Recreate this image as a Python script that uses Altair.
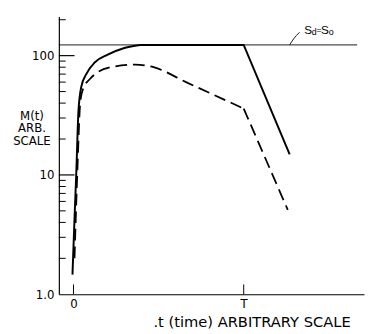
import altair as alt
import pandas as pd

# Solid curve: M(t) for the case S_d = S_o (arbitrary units, T = 10)
solid_rise_t = [-0.06, 0.06, 0.17, 0.29, 0.46, 0.75, 1.26, 2.01, 2.99, 3.91]
solid_rise_m = [1.46, 4.3, 11, 34, 55, 70, 88, 102, 116, 123]
solid_tail_t = [3.91, 10.0, 12.7]
solid_tail_m = [123, 123, 14.9]

# Dashed curve
dash_rise_t = [0.06, 0.23, 0.40, 0.57, 0.98, 1.44, 2.18, 3.62, 4.71, 6.61, 10.0]
dash_rise_m = [2.0, 11, 41, 53, 64, 73, 80, 84, 80, 60, 36]
dash_tail_t = [10.0, 12.59]
dash_tail_m = [36, 5.1]

# Saturation level line S_d = S_o
sat_t = [-0.86, 16.67]
sat_m = [123, 123]

# Leader line to the label
lead_t = [12.70, 12.93, 13.28]
lead_m = [123, 138, 157]

# Label pieces
lab_text = ["S", "d", "=", "S", "o"]
lab_t = [13.79, 14.14, 14.43, 14.77, 15.14]
lab_m = [165, 159, 165, 165, 159]
lab_size = [12, 9, 9, 12, 9]

# Y axis ticks
minor_ticks = [2, 3, 4, 5, 6, 7, 8, 9, 20, 30, 40, 50, 60, 70, 80, 90, 200]
major_ticks = [10, 100]
x_ticks = [0, 10]

XDOM = [-0.86, 17.07]
YDOM = [1, 213]
W, H = 312, 284
FONT = "DejaVu Sans"
LFONT = "Liberation Sans"

xs = alt.Scale(domain=XDOM, nice=False, zero=False)
ys = alt.Scale(type="log", domain=YDOM, nice=False)

def df(t, m):
    return pd.DataFrame({"t": t, "m": m})

base_axes = alt.Chart(df(solid_rise_t, solid_rise_m)).mark_line(
    color="black", strokeWidth=2, interpolate="monotone").encode(
    x=alt.X("t:Q", scale=xs,
            axis=alt.Axis(values=x_ticks,
                          labelExpr="datum.value == 0 ? '0' : 'T'",
                          ticks=False, labelPadding=5, labelFontSize=12, labelFont=FONT,
                          labelColor="black",
                          domainColor="black", domainWidth=1.2, grid=False,
                          title=".t (time) ARBITRARY SCALE", titleFont=FONT,
                          titleFontSize=15, titleFontWeight="normal", titleColor="black",
                          titleX=197, titleY=33, titleAnchor="middle", titleAlign="center",
                          titleBaseline="alphabetic")),
    y=alt.Y("m:Q", scale=ys,
            axis=alt.Axis(values=[1, 10, 100],
                          labelExpr="datum.value == 1 ? '1.0' : datum.value == 10 ? '10' : '100'",
                          ticks=False, labelPadding=5, labelFontSize=12, labelFont=FONT,
                          labelColor="black",
                          domainColor="black", domainWidth=1.2, grid=False,
                          title=["M(t)", "ARB.", "SCALE"], titleAngle=0,
                          titleFont=FONT, titleFontSize=12, titleFontWeight="normal",
                          titleColor="black", titleLineHeight=13,
                          titleX=-28, titleY=96, titleAlign="center", titleBaseline="top")),
)

solid_tail = alt.Chart(df(solid_tail_t, solid_tail_m)).mark_line(
    color="black", strokeWidth=2).encode(
    x=alt.X("t:Q", scale=xs), y=alt.Y("m:Q", scale=ys))

dashed = alt.Chart(df(dash_rise_t, dash_rise_m)).mark_line(
    color="black", strokeWidth=1.8, strokeDash=[12, 6], interpolate="monotone").encode(
    x=alt.X("t:Q", scale=xs), y=alt.Y("m:Q", scale=ys))

dashed_tail = alt.Chart(df(dash_tail_t, dash_tail_m)).mark_line(
    color="black", strokeWidth=1.8, strokeDash=[12, 6]).encode(
    x=alt.X("t:Q", scale=xs), y=alt.Y("m:Q", scale=ys))

satl = alt.Chart(df(sat_t, sat_m)).mark_line(color="black", strokeWidth=0.9).encode(
    x=alt.X("t:Q", scale=xs), y=alt.Y("m:Q", scale=ys))

leadl = alt.Chart(df(lead_t, lead_m)).mark_line(color="black", strokeWidth=0.9,
                                                interpolate="monotone").encode(
    x=alt.X("t:Q", scale=xs), y=alt.Y("m:Q", scale=ys))

lab = pd.DataFrame({"txt": lab_text, "t": lab_t, "m": lab_m, "s": lab_size})
labels = alt.Chart(lab).mark_text(color="black", font=LFONT, align="center",
                                  baseline="middle").encode(
    x=alt.X("t:Q", scale=xs), y=alt.Y("m:Q", scale=ys), text="txt:N",
    size=alt.Size("s:Q", scale=None, legend=None))

minor_r = alt.Chart(pd.DataFrame({"m": minor_ticks})).mark_rule(
    color="black", strokeWidth=1).encode(
    y=alt.Y("m:Q", scale=ys), x=alt.value(0), x2=alt.value(7))
major_r = alt.Chart(pd.DataFrame({"m": major_ticks})).mark_rule(
    color="black", strokeWidth=1.2).encode(
    y=alt.Y("m:Q", scale=ys), x=alt.value(0), x2=alt.value(16))
xt_r = alt.Chart(pd.DataFrame({"t": x_ticks})).mark_rule(
    color="black", strokeWidth=1).encode(
    x=alt.X("t:Q", scale=xs), y=alt.value(H - 10), y2=alt.value(H))

chart = alt.layer(base_axes, solid_tail, dashed, dashed_tail, satl, leadl, labels,
                  minor_r, major_r, xt_r).properties(
    width=W, height=H,
    padding={"left": 52, "top": 5, "right": 1, "bottom": 37},
    autosize=alt.AutoSizeParams(type="none"),
    background="white",
).configure_view(stroke=None)

chart.save("out.html", embed_options={"renderer": "svg", "actions": False})
